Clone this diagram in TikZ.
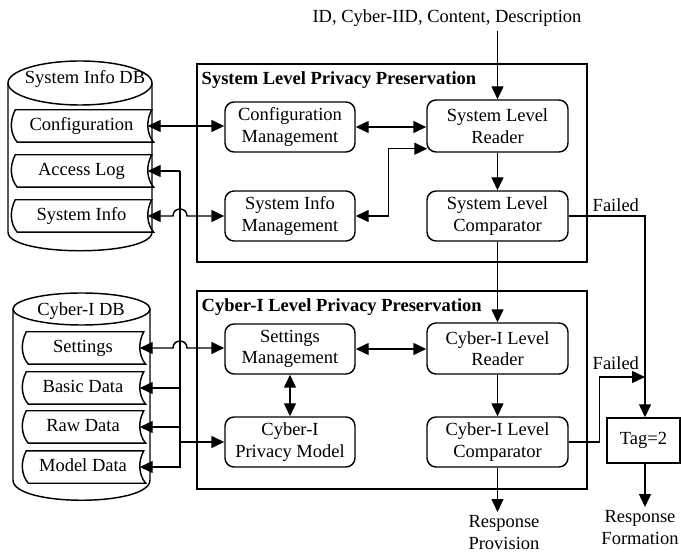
\documentclass[tikz,border=0pt]{standalone}
\usepackage{fontspec}
\setmainfont{Liberation Serif}
\usetikzlibrary{arrows.meta,calc}
\begin{document}
\begin{tikzpicture}[x=1pt,y=-1pt, line width=1.45pt,
  every node/.style={font=\fontsize{18.5}{21.5}\selectfont, align=center},
  proc/.style={draw, rounded corners=9pt, minimum width=130pt, minimum height=50pt, inner sep=2pt},
  wproc/.style={proc, minimum width=141pt},
  frame/.style={draw, minimum width=390pt, minimum height=198pt, inner sep=0pt},
  item/.style={minimum width=#1, minimum height=31pt, inner sep=0pt, text height=12.5pt, text depth=4pt},
  arr/.style={-{Triangle[length=13pt,width=12pt]}},
  darr/.style={{Triangle[length=13pt,width=12pt]}-{Triangle[length=13pt,width=12pt]}},
  lbl/.style={inner sep=0pt, anchor=base west}
]
\useasboundingbox (0,0) rectangle (681,556);

% databases
\draw (8,83) -- (8,232) .. controls (8,257) and (152,257) .. (152,232) -- (152,83);
\draw (80,83) ellipse [x radius=72, y radius=22];
\node[anchor=base, inner sep=0pt] (sdb) at (85,84) {System Info DB};

\draw (13,309) -- (13,480) .. controls (13,507) and (150,507) .. (150,480) -- (150,309);
\draw (81.5,309) ellipse [x radius=68.5, y radius=16];
\node[anchor=base, inner sep=0pt] (cdb) at (81,316) {Cyber-I DB};

\node[item=135pt] (cfg) at (81.5,126) {Configuration};
\node[item=135pt] (alog) at (81.5,171) {Access Log};
\node[item=135pt] (sinfo) at (81.5,216) {System Info};
\node[item=116pt] (sett) at (83,348) {Settings};
\node[item=116pt] (basic) at (83,388) {Basic Data};
\node[item=116pt] (raw) at (83,427) {Raw Data};
\node[item=116pt] (model) at (83,467) {Model Data};

\foreach \n in {cfg,alog,sinfo,sett,basic,raw,model}{
  \draw ($(\n.north west)+(2,0)$)
    .. controls ($(\n.north west)!0.35!(\n.south west)+(-4,0)$) and ($(\n.north west)!0.75!(\n.south west)+(-3,0)$) .. ($(\n.south west)+(4,0)$)
    -- ($(\n.south east)+(4,0)$)
    .. controls ($(\n.north east)!0.75!(\n.south east)+(-3,0)$) and ($(\n.north east)!0.35!(\n.south east)+(-4,0)$) .. ($(\n.north east)+(2,0)$)
    -- cycle;
}

% frames
\node[frame] (sysbox) at (392,163) {};
\node[anchor=base west, inner sep=0pt, font=\fontsize{18.5}{21.5}\selectfont\bfseries] (systitle) at (201,84.5) {System Level Privacy Preservation};
\node[frame] (cybbox) at (392,390) {};
\node[anchor=base west, inner sep=0pt, font=\fontsize{18.5}{21.5}\selectfont\bfseries] (cybtitle) at (201,311.5) {Cyber-I Level Privacy Preservation};

% process nodes
\node[proc] (cmgmt) at (290,127) {Configuration\\Management};
\node[wproc, minimum height=52pt] (sread) at (497.5,126) {System Level\\Reader};
\node[proc] (simgmt) at (290,216) {System Info\\Management};
\node[wproc] (scomp) at (497.5,216) {System Level\\Comparator};
\node[proc] (setm) at (290,349) {Settings\\Management};
\node[wproc, minimum height=51pt] (cread) at (497.5,348.5) {Cyber-I Level\\Reader};
\node[proc] (cpm) at (290,442) {Cyber-I\\Privacy Model};
\node[wproc] (ccomp) at (497.5,442) {Cyber-I Level\\Comparator};

\node[draw, minimum width=73pt, minimum height=45pt, inner sep=0pt] (tag) at (643.5,440.5) {Tag=2};

% free texts
\node[anchor=base, inner sep=3pt] (inp) at (447,23) {ID, Cyber-IID, Content, Description};
\node[anchor=north, inner sep=3pt] (resp) at (504,512) {Response\\Provision};
\node[anchor=north, inner sep=3pt] (form) at (640,507) {Response\\Formation};
\node[lbl] (fail1) at (592,212) {Failed};
\node[lbl] (fail2) at (592,370) {Failed};

\coordinate (vx) at (180,0);
\coordinate (fx) at (645,0);
\coordinate (f2) at (645,377);

% connectors
\draw[arr] (sread.north |- inp.south) -- (sread.north);
\draw[darr] ([xshift=-2pt]cfg.east) -- (cfg.east -| cmgmt.west);
\draw[darr] (cmgmt.east) -- (cmgmt.east -| sread.west);
\draw[darr] (simgmt.east) -- ++(33,0) |- ($(sread.south west)+(1,-4)$);
\draw[arr] (sread) -- (scomp);
\draw[arr] (scomp.east) -- (scomp.east -| fx) -- (fx |- tag.north);
\draw[arr] (scomp) -- (cread);
\draw[darr] (setm.east) -- (setm.east -| cread.west);
\draw[darr] (setm) -- (cpm);
\draw[arr] (cread) -- (ccomp);
\draw[arr] (ccomp.east) -- ++(31,0) |- (f2);
\draw[arr] (ccomp) -- (ccomp |- resp.north);
\draw[arr] (tag.south -| fx) -- (fx |- form.north);

% hops over the bus
\draw[darr] ([xshift=-2pt]sinfo.east) -- ($(sinfo.east -| vx)+(-7,0)$)
  .. controls +(0,-9.3) and +(0,-9.3) .. ($(sinfo.east -| vx)+(7,0)$) -- (sinfo.east -| simgmt.west);
\draw[darr] ([xshift=-2pt]sett.east) -- ($(sett.east -| vx)+(-7,0)$)
  .. controls +(0,-9.3) and +(0,-9.3) .. ($(sett.east -| vx)+(7,0)$) -- (sett.east -| setm.west);

% bus
\draw[arr] (vx |- alog.east) -- ([xshift=-2pt]alog.east);
\draw[arr] (vx |- alog.east) -- (vx |- model.east) -- ([xshift=-2pt]model.east);
\draw[arr] (vx |- basic.east) -- ([xshift=-2pt]basic.east);
\draw[arr] (vx |- raw.east) -- ([xshift=-2pt]raw.east);
\draw[arr] (vx |- cpm.west) -- (cpm.west);
\end{tikzpicture}
\end{document}
